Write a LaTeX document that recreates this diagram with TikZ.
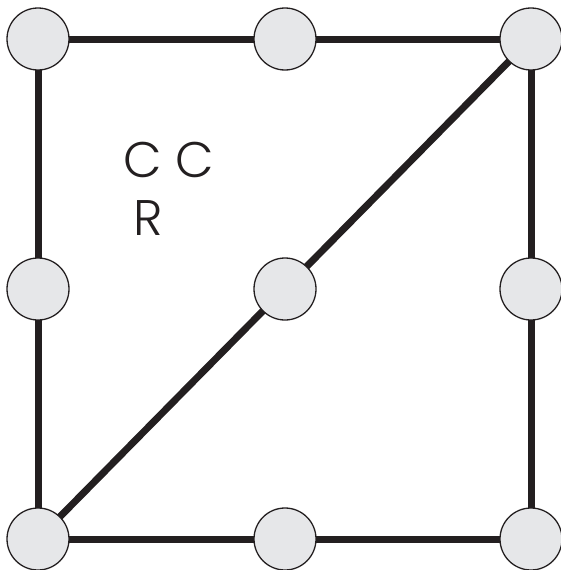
\documentclass[tikz,border=0pt]{standalone}
\usepackage{fontspec}
\setmainfont{Poppins Light}
\definecolor{ink}{HTML}{231F20}
\definecolor{disc}{HTML}{E6E7E9}
\begin{document}
\begin{tikzpicture}[x=1pt,y=-1pt,
  vtx/.style={circle,draw=ink,line width=1.3pt,fill=disc,minimum size=62pt,inner sep=0pt},
  edge/.style={draw=ink,line width=7pt},
  lbl/.style={inner sep=0pt,anchor=base west,text=ink,font=\fontsize{50}{50}\selectfont}]
\useasboundingbox (0,0) rectangle (561,570);
\coordinate (ptl) at (38,39);
\coordinate (ptm) at (285,39);
\coordinate (ptr) at (531,39);
\coordinate (pml) at (38,289);
\coordinate (pmm) at (285,289);
\coordinate (pmr) at (531,289);
\coordinate (pbl) at (38,539);
\coordinate (pbm) at (285,539);
\coordinate (pbr) at (531,539);
\draw[edge] (ptl) -- (ptr) -- (pbr) -- (pbl) -- cycle;
\draw[edge] (pbl) -- (ptr);
\foreach \n in {tl,tm,tr,ml,mm,mr,bl,bm,br}{\node[vtx] (\n) at (p\n) {};}
\node[lbl] (cc) at (123,177) {C C};
\node[lbl] (r) at (133,235) {R};
\end{tikzpicture}
\end{document}
